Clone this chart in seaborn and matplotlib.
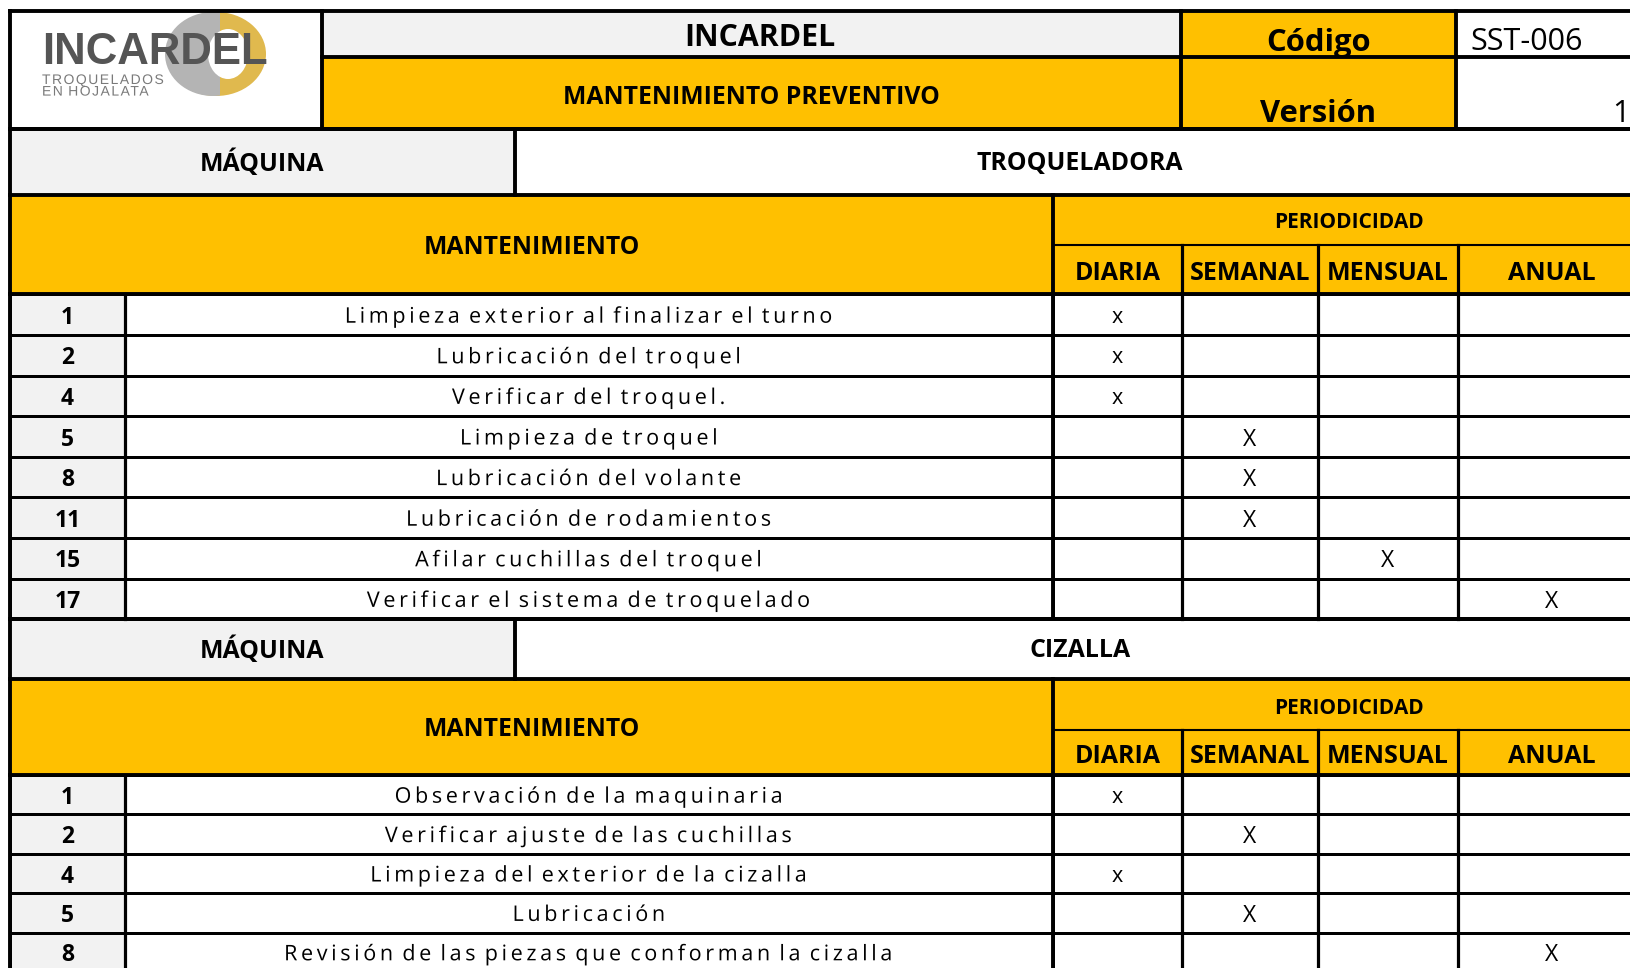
import numpy as np
import matplotlib
matplotlib.use("Agg")
import matplotlib.pyplot as plt
from matplotlib import colors, patheffects
from matplotlib.patches import Rectangle, Ellipse
from matplotlib.path import Path
import seaborn as sns

# cabecera
company = "INCARDEL"
doc_title = "MANTENIMIENTO PREVENTIVO"
code_label = "Código"
code_value = "SST-006"
version_label = "Versión"
version_value = "1"
logo_name = "INCARDEL"
logo_sub = "TROQUELADOS\nEN HOJALATA"
machine_label = "MÁQUINA"
block_label = "MANTENIMIENTO"
period_label = "PERIODICIDAD"
periods = ["DIARIA", "SEMANAL", "MENSUAL", "ANUAL"]

# troqueladora
troq_ids = [1, 2, 4, 5, 8, 11, 15, 17]
troq_tasks = ["Limpieza exterior al finalizar el turno",
              "Lubricación del troquel",
              "Verificar del troquel.",
              "Limpieza de troquel",
              "Lubricación del volante",
              "Lubricación de rodamientos",
              "Afilar cuchillas del troquel",
              "Verificar el sistema de troquelado"]
troq_period = [0, 0, 0, 1, 1, 1, 2, 3]
troq_marks = ["x", "x", "x", "X", "X", "X", "X", "X"]

# cizalla
ciz_ids = [1, 2, 4, 5, 8]
ciz_tasks = ["Observación de la maquinaria",
             "Verificar ajuste de las cuchillas",
             "Limpieza del exterior de la cizalla",
             "Lubricación",
             "Revisión de las piezas que conforman la cizalla"]
ciz_period = [0, 1, 0, 1, 3]
ciz_marks = ["x", "X", "x", "X", "X"]

machines = [("TROQUELADORA", troq_ids, troq_tasks, troq_period, troq_marks),
            ("CIZALLA", ciz_ids, ciz_tasks, ciz_period, ciz_marks)]

# layout en pixeles
W, H = 1631, 968
ORANGE = "#FFC000"
GREY = "#F2F2F2"
X0, XNUM, XLOGO, XMAQ, XTASK = 10, 125, 322, 515, 1053
XPER = [1053, 1182, 1318, 1458, 1645]
XCOD, XVAL, XEND = 1181, 1456, 1645
YTOP, YMID, YHEAD = 11, 57, 129
# (maquina, cabecera, division, filas, alto de fila)
BLOCKS = [(129, 194.5, 244.5, 294.4, 40.6), (619, 679, 730, 775, 39.4)]
BIG, MED, THIN = 2.8, 2.3, 1.5


class Tracking(patheffects.AbstractPathEffect):
    # espaciado entre caracteres (en em), como el de la hoja de calculo
    def __init__(self, em, left=False):
        super().__init__()
        self.units = em * 100  # TextPath usa 100 unidades por em
        self.left = left

    def draw_path(self, renderer, gc, tpath, affine, rgbFace=None):
        codes = tpath.codes
        verts = np.array(tpath.vertices, dtype=float)
        if codes is None or len(verts) == 0:
            renderer.draw_path(gc, tpath, affine, rgbFace)
            return
        starts = list(np.flatnonzero(codes == Path.MOVETO)) + [len(verts)]
        groups, lo, hi = [], None, None
        for a, b in zip(starts[:-1], starts[1:]):
            x0, x1 = verts[a:b, 0].min(), verts[a:b, 0].max()
            mid = (x0 + x1) / 2
            if lo is None or not (lo <= mid <= hi):
                groups.append([])
                lo, hi = x0, x1
            else:
                lo, hi = min(lo, x0), max(hi, x1)
            groups[-1].append((a, b))
        k0 = 0 if self.left else (len(groups) - 1) / 2
        for k, g in enumerate(groups):
            for a, b in g:
                verts[a:b, 0] += self.units * (k - k0)
        renderer.draw_path(gc, Path(verts, codes), affine, rgbFace)


sns.set_theme(style="white")
plt.rcParams["font.family"] = ["Open Sans", "DejaVu Sans"]

fig = plt.figure(figsize=(W / 100, H / 100), dpi=100)
fig.patch.set_facecolor("white")

ov = fig.add_axes([0, 0, 1, 1])
ov.set_xlim(0, W)
ov.set_ylim(H, 0)
ov.axis("off")
ov.set_zorder(10)


def cell(x0, x1, y0, y1, fill):
    ov.add_patch(Rectangle((x0, y0), x1 - x0, y1 - y0, facecolor=fill, edgecolor="none", zorder=1))


def hline(y, x0, x1, lw=BIG):
    ov.plot([x0, x1], [y, y], color="black", lw=lw, solid_capstyle="projecting", zorder=5)


def vline(x, y0, y1, lw=BIG):
    ov.plot([x, x], [y0, y1], color="black", lw=lw, solid_capstyle="projecting", zorder=5)


def label(x, y, s, size, bold=True, ha="center"):
    ov.text(x, y, s, ha=ha, va="center_baseline", fontsize=size,
            fontweight="bold" if bold else "normal", color="black", zorder=3)


def column(x0, x1, y0, y1, labels, fill, **kw):
    ax = fig.add_axes([x0 / W, 1 - y1 / H, (x1 - x0) / W, (y1 - y0) / H])
    n = len(labels)
    sns.heatmap(np.zeros((n, 1)), ax=ax, cmap=colors.ListedColormap([fill]), vmin=0, vmax=1,
                cbar=False, annot=np.array(labels, dtype=object).reshape(n, 1), fmt="",
                annot_kws=dict(color="black", va="center_baseline", **kw),
                linewidths=1.8, linecolor="black", xticklabels=False, yticklabels=False)


# cabecera
cell(X0, XLOGO, YTOP, YHEAD, "white")
cell(XLOGO, XCOD, YTOP, YMID, GREY)
cell(XLOGO, XCOD, YMID, YHEAD, ORANGE)
cell(XCOD, XVAL, YTOP, YHEAD, ORANGE)
cell(XVAL, XEND, YTOP, YHEAD, "white")

# logo
ov.add_patch(Ellipse((216, 54), 100, 84, facecolor="#E0B94E", edgecolor="none", zorder=2))
silver = Ellipse((213, 54), 96, 84, facecolor="#B4B4B4", edgecolor="none", zorder=2)
ov.add_patch(silver)
silver.set_clip_path(Rectangle((150, 0), 70, 200, transform=ov.transData))
ov.add_patch(Ellipse((228, 54), 40, 50, facecolor="white", edgecolor="none", zorder=2))
ov.text(42, 64, logo_name, ha="left", va="baseline", fontsize=31.5, fontweight="bold",
        family="Liberation Sans", color="#555555", zorder=3)
ov.text(42, 73, logo_sub, ha="left", va="top", fontsize=10, linespacing=0.78,
        family="Liberation Sans", color="#7A7A7A", zorder=3,
        path_effects=[Tracking(0.11, left=True)])

label((XLOGO + XCOD) / 2 + 8, 35, company, 21.8)
label((XLOGO + XCOD) / 2, 95, doc_title, 17.8)
label((XCOD + XVAL) / 2, 39, code_label, 22.3)
label(XVAL + 14, 39, code_value, 22, bold=False, ha="left")
label((XCOD + XVAL) / 2, 110, version_label, 22.3)
label(W - 1, 110, version_value, 22, bold=False, ha="right")

hline(YTOP, X0, XEND)
hline(YMID, XLOGO, XEND)
hline(YHEAD, X0, XEND)
vline(XLOGO, YTOP, YHEAD)
vline(XCOD, YTOP, YHEAD)
vline(XVAL, YTOP, YHEAD)
vline(X0, YTOP, H + 5)

# bloques de mantenimiento
for (name, ids, tasks, per, marks), (ym, yh, ys, yr, rh) in zip(machines, BLOCKS):
    n = len(ids)
    ye = yr + n * rh
    cell(X0, XMAQ, ym, yh, GREY)
    cell(XMAQ, XEND, ym, yh, "white")
    cell(X0, XEND, yh, yr, ORANGE)
    label((X0 + XMAQ) / 2, (ym + yh) / 2 - 1.5, machine_label, 17.9)
    label((XMAQ + XEND) / 2, (ym + yh) / 2 - 1.5, name, 17.9)
    label((X0 + XTASK) / 2, (yh + yr) / 2, block_label, 17.8)
    label((XTASK + XEND) / 2, (yh + ys) / 2 + 1, period_label, 15)
    for k, p in enumerate(periods):
        label((XPER[k] + XPER[k + 1]) / 2, (ys + yr) / 2 + 1, p, 18)

    column(X0, XNUM, yr, ye, [str(i) for i in ids], GREY, fontsize=16.5, fontweight="bold")
    column(XNUM, XTASK, yr, ye, tasks, "white", fontsize=15.5, path_effects=[Tracking(0.17)])
    for k in range(len(periods)):
        col_marks = [m if p == k else "" for p, m in zip(per, marks)]
        column(XPER[k], XPER[k + 1], yr, ye, col_marks, "white", fontsize=15.5 if k == 0 else 16.5)

    hline(ym, X0, XEND)
    hline(yh, X0, XEND)
    vline(XMAQ, ym, yh)
    hline(ys, XTASK, XEND, THIN)
    hline(yr, X0, XEND)
    vline(XTASK, yh, ye)
    for x in XPER[1:4]:
        vline(x, ys, ye, MED)
    vline(XNUM, yr, ye, MED)
    hline(ye, X0, XEND)

fig.savefig("out.png", dpi=100, facecolor="white")
